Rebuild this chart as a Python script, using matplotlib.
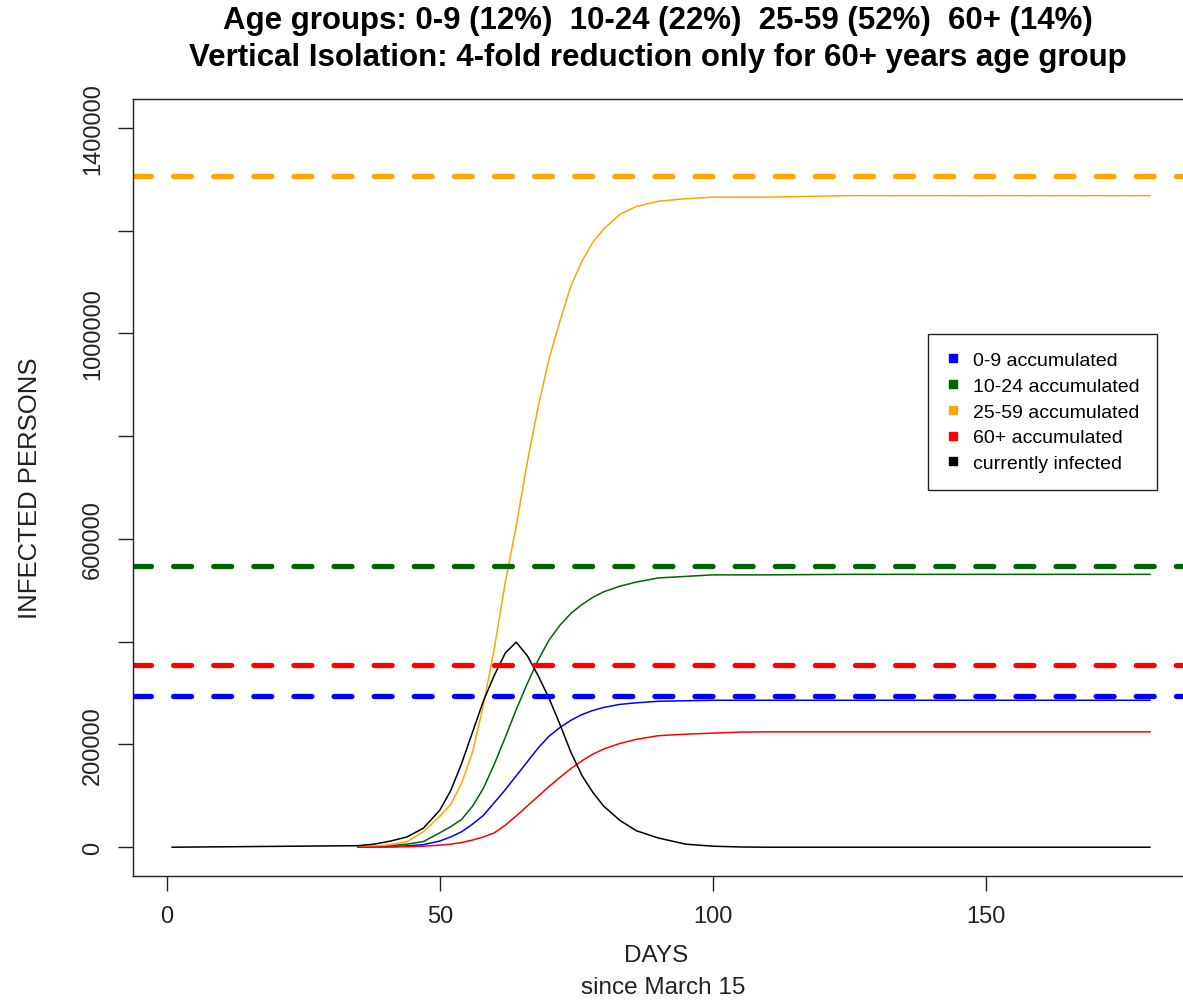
import matplotlib.pyplot as plt
from matplotlib.lines import Line2D

plt.rcParams['font.family'] = ['Liberation Sans', 'DejaVu Sans']

days = [35, 38, 41, 44, 47, 50, 52, 54, 56, 58, 60, 62, 64, 66, 68, 70, 72, 74,
        76, 78, 80, 83, 86, 90, 95, 100, 105, 110, 125, 150, 180]

acc_0_9 = [0, 500, 1000, 2500, 5000, 12000, 20000, 30000, 45000, 62000, 87000,
           112000, 139000, 166000, 193000, 216000, 233000, 247000, 258000, 266000,
           272000, 278000, 281000, 284000, 285000, 286000, 286000, 286000, 286000,
           286000, 286000]
acc_10_24 = [500, 1500, 3000, 6000, 11000, 28000, 40000, 54000, 80000, 115000,
             162000, 214000, 268000, 318000, 364000, 403000, 432000, 455000, 472000,
             486000, 497000, 508000, 516000, 524000, 527000, 530000, 530000, 530000,
             531000, 531000, 531000]
acc_25_59 = [1000, 2000, 5000, 11000, 30000, 60000, 83000, 125000, 185000, 277000,
             388000, 516000, 625000, 748000, 857000, 950000, 1024000, 1092000,
             1140000, 1177000, 1203000, 1232000, 1247000, 1257000, 1262000, 1265000,
             1265000, 1265000, 1268000, 1268000, 1268000]
acc_60 = [0, 200, 500, 1000, 2000, 4000, 6000, 9000, 14000, 20000, 28000, 43000,
          61000, 80000, 99000, 118000, 136000, 153000, 168000, 181000, 191000,
          202000, 210000, 217000, 220000, 222000, 224000, 224500, 224500, 224500,
          224500]

inf_days = [1] + days
currently = [0, 3000, 6000, 12000, 20000, 37000, 72000, 110000, 163000, 224000,
             285000, 335000, 378000, 399000, 373000, 334000, 290000, 239000, 185000,
             140000, 107000, 80000, 52000, 32000, 18000, 6000, 2000, 500, 0, 0, 0, 0]

# group totals (dashed reference lines)
tot_0_9 = 295000
tot_10_24 = 547000
tot_25_59 = 1307000
tot_60 = 355000

labels = ['0-9 accumulated', '10-24 accumulated', '25-59 accumulated',
          '60+ accumulated', 'currently infected']
colors = ['#0000FF', '#006400', '#FFA500', '#FF0000', '#000000']

fig = plt.figure(figsize=(11.83, 10.04), dpi=100)
ax = fig.add_axes([133 / 1183, 1 - 877 / 1004, (1189 - 133) / 1183, (877 - 100) / 1004])

ax.plot(days, acc_0_9, color=colors[0], lw=1.1)
ax.plot(days, acc_10_24, color=colors[1], lw=1.1)
ax.plot(days, acc_25_59, color=colors[2], lw=1.1)
ax.plot(days, acc_60, color=colors[3], lw=1.1)
ax.plot(inf_days, currently, color=colors[4], lw=1.1)

for tot, c in zip([tot_0_9, tot_10_24, tot_25_59, tot_60], colors[:4]):
    ax.axhline(tot, color=c, lw=3.8, dashes=(3.4, 4.2), dash_capstyle='round')

ax.set_xlim(-6.16, 187.16)
ax.set_ylim(-56000, 1456000)
ax.set_xticks([0, 50, 100, 150])
ax.set_xticklabels(['0', '50', '100', '150'], fontsize=17)
ax.set_yticks([0, 200000, 400000, 600000, 800000, 1000000, 1200000, 1400000])
ax.set_yticklabels(['0', '200000', '', '600000', '', '1000000', '', '1400000'],
                   fontsize=17, rotation=90, va='center')
ax.tick_params(length=11, width=1, direction='out', pad=10, colors='#222222')
for s in ax.spines.values():
    s.set_linewidth(1.0)
    s.set_color('#222222')

fig.text(30 / 1183, 1 - 488 / 1004, 'INFECTED PERSONS', rotation=90,
         ha='center', va='center', fontsize=18.5, color='#222222')
fig.text(656 / 1183, 1 - 956 / 1004, 'DAYS', ha='center', va='center',
         fontsize=17.5, color='#222222')
fig.text(663 / 1183, 1 - 988 / 1004, 'since March 15', ha='center', va='center',
         fontsize=17.5, color='#222222')

fig.text(658 / 1183, 1 - 21 / 1004,
         'Age groups: 0-9 (12%)  10-24 (22%)  25-59 (52%)  60+ (14%)',
         ha='center', va='center', fontsize=22.5, fontweight='bold')
fig.text(658 / 1183, 1 - 58 / 1004,
         'Vertical Isolation: 4-fold reduction only for 60+ years age group',
         ha='center', va='center', fontsize=22.5, fontweight='bold')

handles = [Line2D([], [], ls='none', marker='s', ms=5.5, color=c) for c in colors]
leg = fig.legend(handles, labels, loc='upper right',
                 bbox_to_anchor=(1157 / 1183, 1 - 335 / 1004),
                 fontsize=14, frameon=True, fancybox=False, framealpha=1,
                 edgecolor='#222222', handlelength=0.8, handletextpad=0.6,
                 labelspacing=0.42, borderpad=0.9, borderaxespad=0)
leg.get_frame().set_linewidth(1.0)

fig.savefig('out.png', dpi=100)
